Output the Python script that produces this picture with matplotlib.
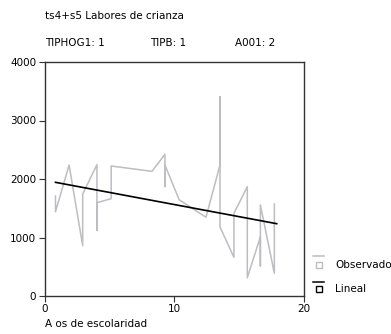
from matplotlib import pyplot as plt
from matplotlib.lines import Line2D
from matplotlib.patches import Rectangle

# observed series, in drawing order (repeated x = several values at one x)
obs_x = [0.85, 0.85, 1.9, 2.95, 2.95, 4.05, 4.05, 4.05, 5.15, 5.15, 8.3,
         9.3, 9.3, 9.3, 10.4, 12.47, 13.55, 13.55, 13.55, 14.63, 14.63,
         15.66, 15.66, 16.67, 16.67, 16.67, 17.75, 17.75]
obs_y = [1709, 1441, 2239, 860, 1744, 2245, 1123, 1595, 1664, 2222, 2131,
         2422, 1869, 2239, 1645, 1346, 2239, 3407, 1180, 661, 1413,
         1869, 313, 1010, 513, 1556, 388, 1573]

# linear fit end points
fit_x = [0.85, 17.93]
fit_y = [1943, 1236]

x_ticks = [0, 10, 20]
y_ticks = [0, 1000, 2000, 3000, 4000]

title = 'ts4+s5 Labores de crianza'
sub_labels = ['TIPHOG1: 1', 'TIPB: 1', 'A001: 2']
x_label = 'A os de escolaridad'
legend_labels = ['Observado', 'Lineal']

GRAY = '#bdbdc2'
DARK = '#333333'

W, H = 391, 334
fig = plt.figure(figsize=(W / 100, H / 100), dpi=100)
ax = fig.add_axes([44.5 / W, 1 - 296 / H, 259 / W, 234 / H])

ax.plot(obs_x, obs_y, color=GRAY, lw=1.1)
ax.plot(fit_x, fit_y, color='black', lw=1.2)

ax.set_xlim(0, 20)
ax.set_ylim(0, 4000)
ax.set_xticks(x_ticks)
ax.set_yticks(y_ticks)
ax.tick_params(direction='out', length=4, width=0.8, color=DARK,
               labelsize=7.5, pad=2)
for s in ax.spines.values():
    s.set_color(DARK)
    s.set_linewidth(1.0)

fs = 7.5
fig.text(45 / W, 1 - 16 / H, title, fontsize=fs, va='center', ha='left')
for xp, lab in zip([45, 150, 235], sub_labels):
    fig.text(xp / W, 1 - 43 / H, lab, fontsize=fs, va='center', ha='left')
fig.text(45 / W, 1 - 324 / H, x_label, fontsize=fs, va='center', ha='left')

# legend, drawn by hand: a short line over a small square
leg_styles = [(GRAY, 256, 265), ('black', 282, 289)]
for (col, ly, sy), lab in zip(leg_styles, legend_labels):
    fig.add_artist(Line2D([313 / W, 324 / W], [1 - ly / H, 1 - ly / H],
                          color=col, lw=1.1))
    fig.add_artist(Rectangle((316 / W, 1 - (sy + 3) / H), 6 / W, 6 / H,
                             facecolor='white', edgecolor=col, lw=1.0))
    fig.text(335 / W, 1 - sy / H, lab, fontsize=fs, va='center', ha='left')

fig.savefig('out.png', dpi=100)
